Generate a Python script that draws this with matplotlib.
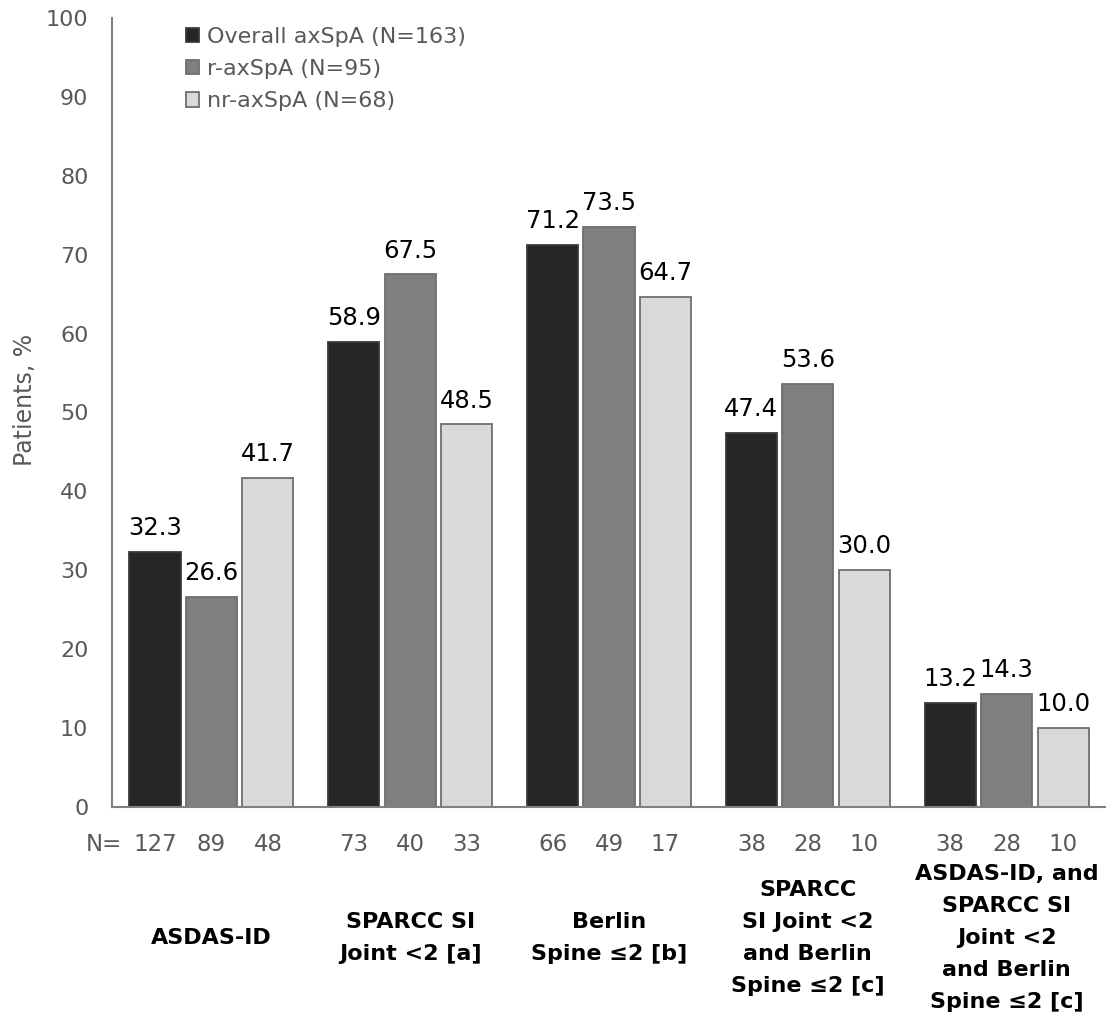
import matplotlib
matplotlib.use("Agg")
import matplotlib.pyplot as plt
import numpy as np
from matplotlib.transforms import blended_transform_factory

categories = ["ASDAS-ID",
              "SPARCC SI\nJoint <2 [a]",
              "Berlin\nSpine \u22642 [b]",
              "SPARCC\nSI Joint <2\nand Berlin\nSpine \u22642 [c]",
              "ASDAS-ID, and\nSPARCC SI\nJoint <2\nand Berlin\nSpine \u22642 [c]"]
series_names = ["Overall axSpA (N=163)", "r-axSpA (N=95)", "nr-axSpA (N=68)"]
overall = [32.3, 58.9, 71.2, 47.4, 13.2]
r_axspa = [26.6, 67.5, 73.5, 53.6, 14.3]
nr_axspa = [41.7, 48.5, 64.7, 30.0, 10.0]
n_overall = [127, 73, 66, 38, 38]
n_r = [89, 40, 49, 28, 28]
n_nr = [48, 33, 17, 10, 10]
yticks = list(range(0, 101, 10))

colors = ["#262626", "#7f7f7f", "#d9d9d9"]
edges = ["#3a3a3a", "#6e6e6e", "#6e6e6e"]

plt.rcParams['font.family'] = ['DejaVu Sans']
fig = plt.figure(figsize=(11.06, 10.13), dpi=100)
ax = fig.add_axes([0.1013, 0.2034, 0.8987, 0.7788])

x = np.arange(len(categories))
pitch = 0.284
width = 0.257
values = [overall, r_axspa, nr_axspa]
ns = [n_overall, n_r, n_nr]
trans = blended_transform_factory(ax.transData, ax.transAxes)
for i, (vals, nvals) in enumerate(zip(values, ns)):
    pos = x + (i - 1) * pitch
    bars = ax.bar(pos, vals, width=width, color=colors[i], edgecolor=edges[i],
                  linewidth=1.3, label=series_names[i], zorder=2)
    for b, v in zip(bars, vals):
        ax.annotate(f"{v:.1f}", (b.get_x() + b.get_width() / 2, v),
                    xytext=(0, 8.5), textcoords="offset points",
                    ha="center", va="bottom", fontsize=17.5, color="#000000")
    for p, nv in zip(pos, nvals):
        ax.text(p, -0.048, str(nv), transform=trans, ha="center", va="center",
                fontsize=16.5, color="#595959")

ax.text(-0.45, -0.048, "N=", transform=trans, ha="right", va="center",
        fontsize=16.5, color="#595959")

for xi, cat in zip(x, categories):
    ax.text(xi, -0.166, cat, transform=trans, ha="center", va="center",
            multialignment="center", fontsize=16, fontweight="bold",
            color="#000000", linespacing=1.75)

ax.set_xlim(-0.5, 4.5)
ax.set_ylim(0, 100)
ax.set_yticks(yticks)
ax.set_xticks([])
ax.tick_params(axis="y", length=0, labelsize=16, labelcolor="#595959", pad=17)
for s in ["top", "right"]:
    ax.spines[s].set_visible(False)
for s in ["left", "bottom"]:
    ax.spines[s].set_color("#808080")
    ax.spines[s].set_linewidth(1.5)
ax.set_ylabel("Patients, %", fontsize=17, color="#595959")
ax.yaxis.set_label_coords(-0.0755, 0.516)

leg = ax.legend(loc="upper left", bbox_to_anchor=(0.065, 1.0), frameon=False,
                fontsize=16, handlelength=0.6, handleheight=0.6,
                handletextpad=0.35, labelspacing=0.55, borderaxespad=0)
for t in leg.get_texts():
    t.set_color("#595959")

fig.savefig("out.png", dpi=100)
